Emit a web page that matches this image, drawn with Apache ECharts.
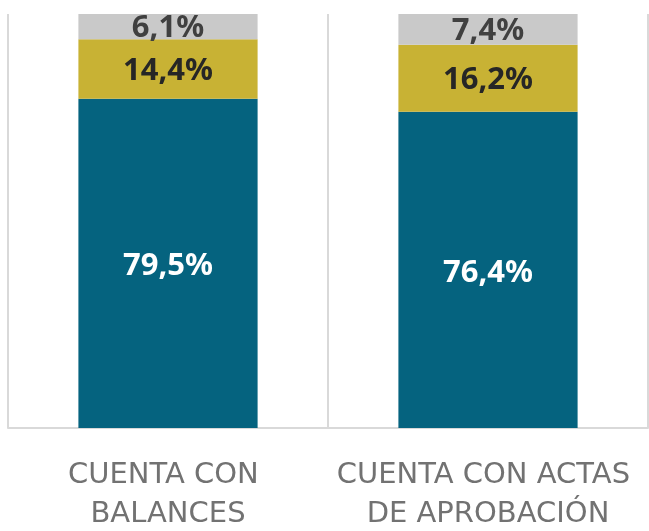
<!DOCTYPE html>
<html>
<head>
<meta charset="utf-8">
<script src="https://cdn.jsdelivr.net/npm/echarts@6/dist/echarts.min.js"></script>
<style>html,body{margin:0;padding:0;background:#fff}#c{width:649px;height:531px}</style>
</head>
<body>
<div id="c"></div>
<script>
const categories = ['CUENTA CON BALANCES', 'CUENTA CON ACTAS DE APROBACIÓN'];
const seriesTeal = [79.5, 76.4];
const seriesGold = [14.4, 16.2];
const seriesGray = [6.1, 7.4];

const fmt = p => p.value.toFixed(1).replace('.', ',') + '%';
const lbl = (color, dy) => ({
  show: true, position: 'inside', formatter: fmt, offset: [0, dy || 0],
  fontFamily: 'Noto Sans', fontWeight: 'bold', fontSize: 31, color: color
});

const chart = echarts.init(document.getElementById('c'), null, {renderer: 'canvas'});
chart.setOption({
  animation: false,
  backgroundColor: '#ffffff',
  grid: {left: 8, right: 1, top: 14, bottom: 103, containLabel: false, outerBoundsMode: 'none'},
  xAxis: {
    type: 'category', data: categories,
    axisLine: {show: true, lineStyle: {color: '#d9d9d9', width: 2}},
    axisTick: {show: false},
    splitLine: {show: true, lineStyle: {color: '#d9d9d9', width: 2}},
    axisLabel: {
      interval: 0, margin: 28, width: 310, overflow: 'break',
      fontFamily: 'DejaVu Sans', fontSize: 29, lineHeight: 39, color: '#727272'
    }
  },
  yAxis: {type: 'value', min: 0, max: 100, show: false, splitLine: {show: false}},
  series: [
    {type: 'bar', stack: 't', data: seriesTeal, barWidth: '56%', itemStyle: {color: '#05637f'}, label: lbl('#ffffff', 3)},
    {type: 'bar', stack: 't', data: seriesGold, itemStyle: {color: '#c8b234'}, label: lbl('#262626', 2)},
    {type: 'bar', stack: 't', data: seriesGray, itemStyle: {color: '#c9c9c9'}, label: lbl('#404040', 2)}
  ]
});
</script>
</body>
</html>
